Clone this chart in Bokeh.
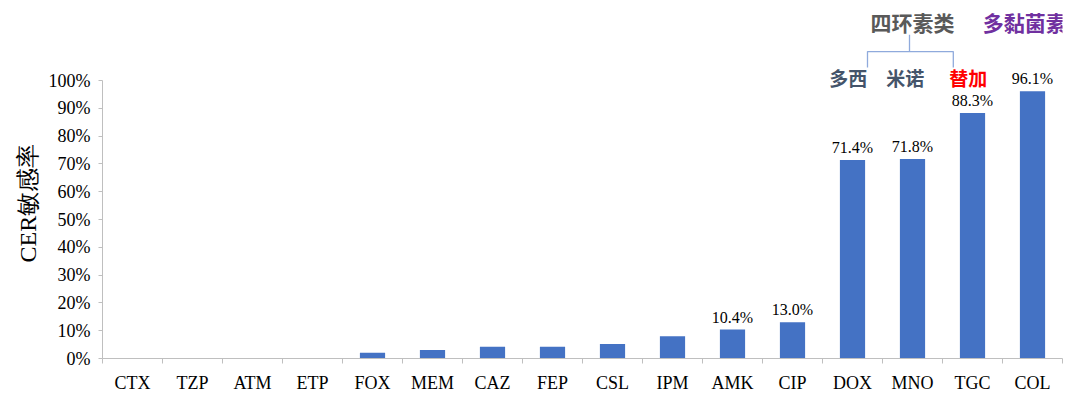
from bokeh.plotting import figure
from bokeh.models import Range1d, FixedTicker, NumeralTickFormatter, ColumnDataSource, Title
from bokeh.core.properties import value
from bokeh.embed import file_html
from bokeh.resources import INLINE

categories = ["CTX", "TZP", "ATM", "ETP", "FOX", "MEM", "CAZ", "FEP",
              "CSL", "IPM", "AMK", "CIP", "DOX", "MNO", "TGC", "COL"]
rates = [0.0, 0.0, 0.0, 0.0, 2.1, 3.1, 4.2, 4.2,
         5.2, 8.0, 10.4, 13.0, 71.4, 71.8, 88.3, 96.1]
labelled = ["AMK", "CIP", "DOX", "MNO", "TGC", "COL"]

idx = list(range(len(categories)))
frac = [r / 100 for r in rates]

p = figure(frame_width=960, frame_height=351, min_border_left=102, min_border_right=8,
           min_border_top=7, min_border_bottom=32,
           x_range=Range1d(-0.5, len(categories) - 0.5),
           y_range=Range1d(0, 1.2626),
           output_backend="svg", toolbar_location=None)
p.outline_line_color = None
p.xgrid.grid_line_color = None
p.ygrid.grid_line_color = None
p.background_fill_color = "white"

src = ColumnDataSource(dict(x=idx, top=frac))
p.vbar(x="x", top="top", width=0.42, source=src, fill_color="#4472C4", line_color=None)

lx = [categories.index(c) for c in labelled]
ly = [frac[i] for i in lx]
lt = ["%.1f%%" % rates[i] for i in lx]
p.text(x=lx, y=ly, text=lt, text_align="center", text_baseline="bottom", y_offset=-4,
       text_font=value("Liberation Serif"), text_font_size="16px", text_color="#000000")

# x axis
xa = p.xaxis[0]
xa.ticker = FixedTicker(ticks=idx, minor_ticks=[i - 0.5 for i in range(len(categories) + 1)])
xa.major_label_overrides = {i: c for i, c in enumerate(categories)}
xa.major_tick_line_color = None
xa.minor_tick_line_color = "#bfbfbf"
xa.minor_tick_out = 5
xa.minor_tick_in = 0
xa.axis_line_color = "#bfbfbf"
xa.major_label_text_font = "Liberation Serif"
xa.major_label_text_font_size = "18px"
xa.major_label_text_color = "#000000"
xa.major_label_standoff = 8

# y axis
ya = p.yaxis[0]
ya.ticker = FixedTicker(ticks=[i / 10 for i in range(11)], minor_ticks=[])
ya.formatter = NumeralTickFormatter(format="0%")
ya.bounds = (0, 1)
ya.axis_line_color = "#bfbfbf"
ya.major_tick_line_color = "#bfbfbf"
ya.major_tick_out = 4
ya.major_tick_in = 0
ya.minor_tick_line_color = None
ya.major_label_text_font = "Liberation Serif"
ya.major_label_text_font_size = "18px"
ya.major_label_text_color = "#000000"
ya.major_label_standoff = 8

# y axis title placed as a left-side title so it can sit over the 0-100% span
p.add_layout(Title(text="CER敏感率", align="left", offset=96, standoff=10,
                   text_font="Liberation Serif", text_font_size="24px",
                   text_font_style="normal", text_color="#000000"), "left")

# group annotations
p.text(x=[13.0], y=[1.212], text=["四环素类"], text_align="center", text_baseline="middle",
       text_font=value("Noto Sans CJK SC"), text_font_style="bold", text_font_size="21px",
       text_color="#595959")
p.text(x=[14.87], y=[1.212], text=["多黏菌素"], text_align="center", text_baseline="middle",
       text_font=value("Noto Sans CJK SC"), text_font_style="bold", text_font_size="21px",
       text_color="#7030A0")
p.text(x=[11.93, 12.88], y=[1.011, 1.011], text=["多西", "米诺"], text_align="center",
       text_baseline="middle", text_font=value("Noto Sans CJK SC"), text_font_style="bold",
       text_font_size="19px", text_color="#44546A")
p.text(x=[13.93], y=[1.011], text=["替加"], text_align="center", text_baseline="middle",
       text_font=value("Noto Sans CJK SC"), text_font_style="bold", text_font_size="19px",
       text_color="#FF0000")
p.multi_line(xs=[[12.95, 12.95], [12.25, 12.25, 13.68, 13.68]],
             ys=[[1.165, 1.104], [1.047, 1.104, 1.104, 1.047]],
             line_color="#8FAADC", line_width=1.3)

open("out.html", "w").write(file_html(p, INLINE))
